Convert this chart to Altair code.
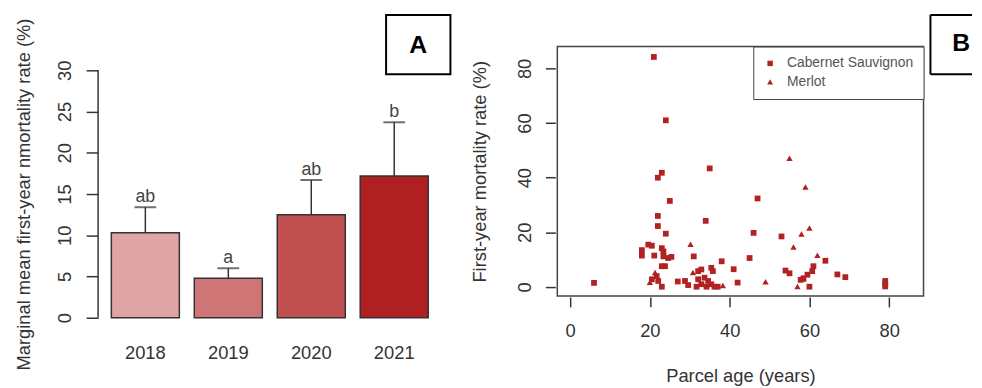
import altair as alt
import pandas as pd

# ---------------- Panel A data ----------------
years = ["2018", "2019", "2020", "2021"]
means = [10.3, 4.8, 12.5, 17.2]
uppers = [13.4, 6.0, 16.7, 23.7]
letters = ["ab", "a", "ab", "b"]
bar_colors = ["#E0A4A4", "#D07575", "#C04F4F", "#B01F21"]
y_ticks_a = [0, 5, 10, 15, 20, 25, 30]

# ---------------- Panel B data ----------------
cab_age = [6, 21, 24, 22, 23, 35, 25, 22, 22, 24, 34, 47, 46, 53, 45, 38, 31, 41, 42,
           64, 67, 69, 79, 79, 79, 60, 54, 55, 61, 60.7, 59.5, 58.5, 57.8,
           18, 18, 19.6, 20.5, 23, 23.4, 21.1, 23.4, 24.6, 25.4, 23, 23.8, 21.7, 20.5, 22.1, 23,
           27, 28.8, 29.6, 32.1, 32.9, 35.4, 35.8, 32.1, 33.7, 34.6, 32.9, 35.4, 36.2, 37, 31.7, 34.2]
cab_rate = [1.5, 84.2, 61, 40, 41.8, 43.4, 31.5, 26, 22.3, 19.5, 24.2, 32.4, 19.8, 18.5, 10.6, 9.4, 11.2, 6.5, 1.6,
            9.6, 4.6, 3.6, 2.2, 1.2, 0.2, 0.1, 6, 5, 7.6, 5.8, 4.5, 3.2, 2.6,
            11.5, 13.5, 15.5, 15.1, 14.2, 13, 11.5, 11.2, 10.6, 11, 7.6, 7.6, 4, 2.8, 2.2, 0.1,
            2, 2.2, 0.7, 5.8, 6.4, 7, 5.8, 2.8, 3.4, 2.2, 1, 1, 0.1, 0.1, 0.1, 0.1]
mer_age = [55, 59, 60, 58, 56, 62, 49, 30.2, 57, 38.3, 20, 21.3, 30.8, 58.5]
mer_rate = [47, 36.5, 21.5, 19.3, 14.5, 11.5, 1.8, 15.5, 0.1, 0.4, 1.6, 5.2, 5.2, 2.8]
cultivars = ["Cabernet Sauvignon", "Merlot"]
x_ticks_b = [0, 20, 40, 60, 80]
y_ticks_b = [0, 20, 40, 60, 80]

RED = "#B22222"
TXT = "#333333"
FONT = "Liberation Sans"
TRIANGLE = "M-1.1,0.85L1.1,0.85L0,-1.05Z"

# ---------------- Panel A ----------------
dfa = pd.DataFrame({"year": years, "mean": means, "upper": uppers, "letter": letters})

HA = 274
ytopA = 30 * HA / 250.0

xA = alt.X("year:N", sort=years,
           scale=alt.Scale(paddingInner=0.18, paddingOuter=0.16),
           axis=alt.Axis(title=None, labelAngle=0, domain=False, ticks=False,
                         labelPadding=26, labelFontSize=18.5, labelColor=TXT))
yA = alt.Y("mean:Q", scale=alt.Scale(domain=[0, ytopA], nice=False),
           axis=alt.Axis(values=y_ticks_a, grid=False, domain=False,
                         tickSize=12, tickColor=TXT, tickWidth=1.5,
                         labelAngle=270, labelAlign="center", labelBaseline="bottom",
                         labelPadding=12, labelFontSize=18.5, labelColor=TXT,
                         title="Marginal mean first-year nmortality rate (%)",
                         titleFontSize=18.5, titleFontWeight="normal", titleColor=TXT,
                         titlePadding=22, titleY=HA - 125))

bars = alt.Chart(dfa).mark_bar(stroke=TXT, strokeWidth=1.5).encode(
    x=xA, y=yA,
    color=alt.Color("year:N", scale=alt.Scale(domain=years, range=bar_colors), legend=None))
err = alt.Chart(dfa).mark_rule(color=TXT, strokeWidth=1.5).encode(
    x=alt.X("year:N", sort=years), y="mean:Q", y2="upper:Q")
cap = alt.Chart(dfa).mark_tick(color=TXT, thickness=2, size=22, orient="horizontal").encode(
    x=alt.X("year:N", sort=years), y="upper:Q")
lab = alt.Chart(dfa).mark_text(dy=-5, baseline="alphabetic", fontSize=18, color="#444").encode(
    x=alt.X("year:N", sort=years), y="upper:Q", text="letter:N")

one = pd.DataFrame({"k": [0]})
axisA = alt.Chart(one).mark_rule(color=TXT, strokeWidth=1.5).encode(
    x=alt.value(0), y=alt.datum(y_ticks_a[0]), y2=alt.datum(y_ticks_a[-1]))
boxA = alt.Chart(one).mark_rect(fill="white", stroke="black", strokeWidth=2).encode(
    x=alt.value(291), x2=alt.value(356), y=alt.value(-32), y2=alt.value(28))
txtA = alt.Chart(one).mark_text(text="A", fontSize=25, fontWeight="bold", color="black",
                                baseline="middle", align="center").encode(
    x=alt.value(323.5), y=alt.value(-2))

panelA = alt.layer(bars, err, cap, lab, axisA, boxA, txtA).properties(
    width=347, height=HA, view=alt.ViewBackground(stroke="transparent"))

# ---------------- Panel B ----------------
dfb = pd.DataFrame({
    "age": cab_age + mer_age,
    "rate": cab_rate + mer_rate,
    "cultivar": [cultivars[0]] * len(cab_age) + [cultivars[1]] * len(mer_age),
})

pts = alt.Chart(dfb).mark_point(filled=True, opacity=1, size=34, color=RED, strokeWidth=0).encode(
    x=alt.X("age:Q", scale=alt.Scale(domain=[-3.2, 88.6], nice=False, zero=False),
            axis=alt.Axis(values=x_ticks_b, grid=False, domain=False,
                          tickSize=10, tickColor=TXT, tickWidth=1.5, offset=1,
                          labelPadding=15, labelFontSize=18.5, labelColor=TXT,
                          title="Parcel age (years)", titleFontSize=18.5,
                          titleFontWeight="normal", titleColor=TXT, titlePadding=27)),
    y=alt.Y("rate:Q", scale=alt.Scale(domain=[-3.3, 88], nice=False, zero=False),
            axis=alt.Axis(values=y_ticks_b, grid=False, domain=False,
                          tickSize=10, tickColor=TXT, tickWidth=1.5, offset=2,
                          labelAngle=270, labelAlign="center", labelBaseline="bottom",
                          labelPadding=11, labelFontSize=18.5, labelColor=TXT,
                          title="First-year mortality rate (%)", titleFontSize=18.5,
                          titleFontWeight="normal", titleColor=TXT, titlePadding=27)),
    shape=alt.Shape("cultivar:N",
                    scale=alt.Scale(domain=cultivars, range=["square", TRIANGLE]),
                    legend=alt.Legend(title=None, orient="top-right", offset=0, padding=10,
                                      strokeColor="#444", fillColor="white",
                                      symbolFillColor=RED, symbolStrokeColor=RED,
                                      symbolStrokeWidth=0, symbolSize=30,
                                      labelFontSize=14, labelColor="#555", labelOffset=10,
                                      rowPadding=5)),
)

bTop = alt.Chart(one).mark_rule(color="black", strokeWidth=2).encode(
    x=alt.value(377), x2=alt.value(419), y=alt.value(-32))
bBot = alt.Chart(one).mark_rule(color="black", strokeWidth=2).encode(
    x=alt.value(377), x2=alt.value(419), y=alt.value(28))
bLeft = alt.Chart(one).mark_rule(color="black", strokeWidth=2).encode(
    x=alt.value(377), y=alt.value(-32), y2=alt.value(28))
txtB = alt.Chart(one).mark_text(text="B", fontSize=25, fontWeight="bold", color="black",
                                baseline="middle", align="center").encode(
    x=alt.value(408), y=alt.value(-4))

panelB = alt.layer(pts, bTop, bBot, bLeft, txtB).properties(width=370, height=252)

chart = alt.hconcat(panelA, panelB, spacing=17).resolve_legend(
    shape="independent"
).properties(
    padding={"left": 6, "top": 3, "right": 0, "bottom": 0}
).configure(font=FONT).configure_view(stroke="#444", strokeWidth=1.5)

chart.save("out.html", embed_options={"renderer": "svg", "actions": False})
